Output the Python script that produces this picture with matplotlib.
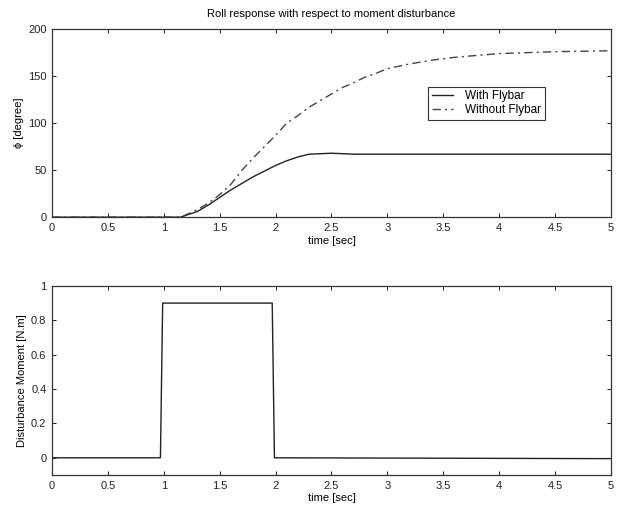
import matplotlib
matplotlib.use("Agg")
import matplotlib.pyplot as plt

plt.rcParams['font.family'] = ['Liberation Sans', 'DejaVu Sans']
plt.rcParams['font.size'] = 8

# Top plot data
t_with = [0, 1.15, 1.3, 1.4, 1.5, 1.6, 1.7, 1.8, 1.9, 2.0, 2.1, 2.2, 2.3, 2.4, 2.5, 2.6, 2.7, 3.0, 5.0]
phi_with = [0, 0, 6, 13, 21, 29, 36, 43, 49, 55, 60, 64, 67, 67.5, 68, 67.5, 67, 67, 67]

t_without = [0, 1.15, 1.3, 1.4, 1.5, 1.6, 1.7, 1.8, 1.9, 2.0, 2.1, 2.2, 2.3, 2.4, 2.5,
             2.6, 2.7, 2.8, 2.9, 3.0, 3.2, 3.4, 3.6, 3.8, 4.0, 4.25, 4.5, 5.0]
phi_without = [0, 0, 8, 15, 24, 35, 50, 63, 75, 87, 100, 108, 117, 124, 131,
               138, 143, 149, 153, 158, 163, 167, 170, 172, 174, 175, 176, 177]

# Bottom plot data
t_dist = [0, 0.97, 0.99, 1.97, 1.99, 5.0]
m_dist = [0, 0, 0.9, 0.9, 0, -0.005]

xticks = [0, 0.5, 1, 1.5, 2, 2.5, 3, 3.5, 4, 4.5, 5]
xticklabels = ['0', '0.5', '1', '1.5', '2', '2.5', '3', '3.5', '4', '4.5', '5']

fig = plt.figure(figsize=(6.28, 5.11), dpi=100)
ax1 = fig.add_axes([0.0828, 0.575, 0.890, 0.368])
ax2 = fig.add_axes([0.0828, 0.0705, 0.890, 0.370])

ax1.plot(t_with, phi_with, color='#222222', lw=1.0, ls='-', label='With Flybar')
ax1.plot(t_without, phi_without, color='#444444', lw=1.0, ls=(0, (6, 3, 1.5, 3)), label='Without Flybar')
ax1.set_xlim(0, 5)
ax1.set_ylim(0, 200)
ax1.set_yticks([0, 50, 100, 150, 200])
ax1.set_xticks(xticks)
ax1.set_xticklabels(xticklabels)
ax1.set_xlabel('time [sec]', labelpad=2)
ax1.set_ylabel('ϕ [degree]', labelpad=3)
ax1.set_title('Roll response with respect to moment disturbance', fontsize=8, pad=9)
leg = ax1.legend(loc='upper left', bbox_to_anchor=(0.663, 0.725), frameon=True, fancybox=False,
                 edgecolor='#333333', framealpha=1, borderpad=0.3, handlelength=1.8,
                 labelspacing=0.15, handletextpad=1.0, fontsize=8.5)
leg.get_frame().set_linewidth(0.8)

ax2.plot(t_dist, m_dist, color='#222222', lw=1.0)
ax2.set_xlim(0, 5)
ax2.set_ylim(-0.1, 1)
ax2.set_yticks([0, 0.2, 0.4, 0.6, 0.8, 1])
ax2.set_yticklabels(['0', '0.2', '0.4', '0.6', '0.8', '1'])
ax2.set_xticks(xticks)
ax2.set_xticklabels(xticklabels)
ax2.set_xlabel('time [sec]', labelpad=2)
ax2.set_ylabel('Disturbance Moment [N.m]', labelpad=3)

for ax in (ax1, ax2):
    ax.tick_params(direction='in', top=True, right=True, length=3, width=0.7, colors='#222222', pad=4)
    for s in ax.spines.values():
        s.set_linewidth(0.9)
        s.set_color('#333333')

fig.savefig('out.png', dpi=100)
